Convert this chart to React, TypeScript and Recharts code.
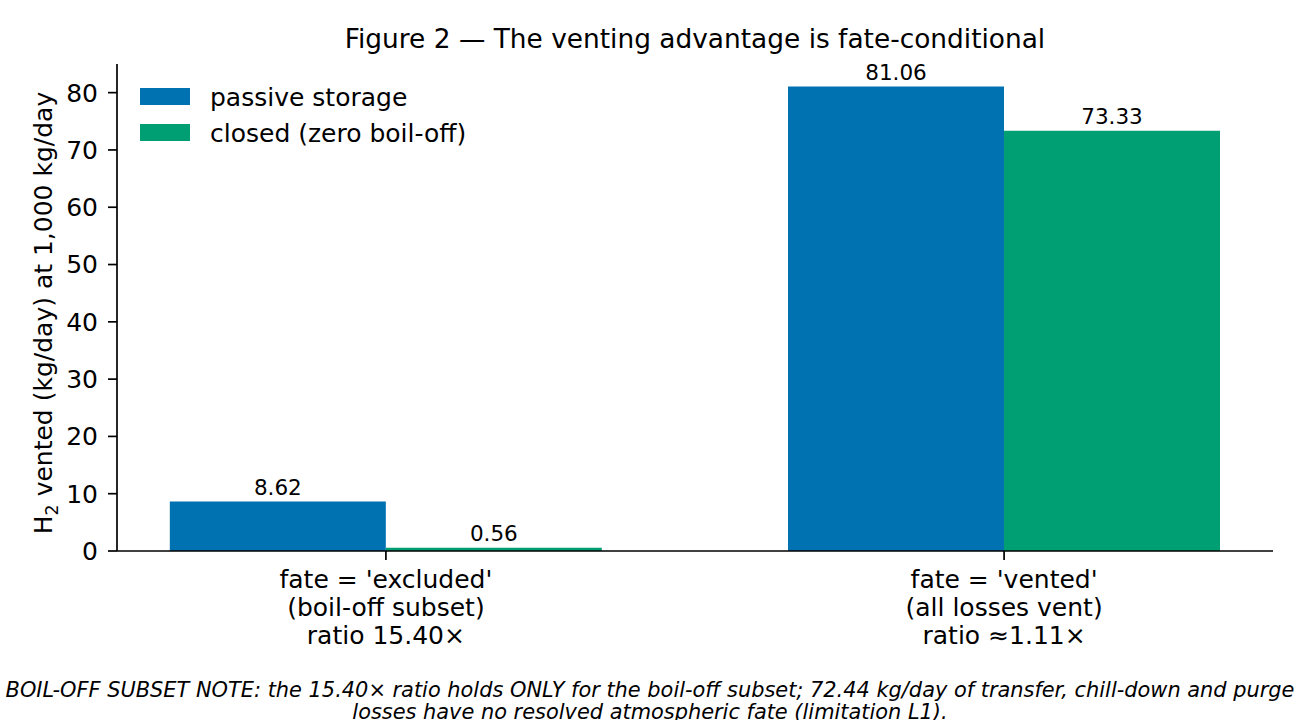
import { BarChart, Bar, XAxis, YAxis, LabelList } from "recharts";

const FONT = "'DejaVu Sans', sans-serif";

// two loss-fate scenarios, each with a passive and a closed storage bar
const CATEGORIES = ["fate = 'excluded'", "fate = 'vented'"];
const SUBTITLES = ["(boil-off subset)", "(all losses vent)"];
const RATIO_LABELS = ["ratio 15.40×", "ratio ≈1.11×"];
const PASSIVE = [8.62, 81.06];
const CLOSED = [0.56, 73.33];
const Y_TICKS = [0, 10, 20, 30, 40, 50, 60, 70, 80];

const SERIES = [
  { key: "passive", name: "passive storage", color: "#0072B2" },
  { key: "closed", name: "closed (zero boil-off)", color: "#009E73" },
];

const rows = CATEGORIES.map((c, i) => ({
  x: i,
  label: c,
  passive: PASSIVE[i],
  closed: CLOSED[i],
}));

const XTick = (props: any) => {
  const { x, y, payload } = props;
  const i = payload.value as number;
  const lines = [CATEGORIES[i], SUBTITLES[i], RATIO_LABELS[i]];
  return (
    <text x={x} y={y} textAnchor="middle" fontFamily={FONT} fontSize={25} fill="#000">
      {lines.map((l, k) => (
        <tspan key={k} x={x} dy={k === 0 ? 23 : 28.2}>
          {l}
        </tspan>
      ))}
    </text>
  );
};

export default function App() {
  return (
    <div style={{ position: "absolute", left: 0, top: 0, width: 1300, height: 720, background: "#fff" }}>
      <BarChart
        width={1300}
        height={720}
        data={rows}
        margin={{ top: 64, right: 27, bottom: 69, left: 0 }}
        barGap={0}
      >
        <XAxis
          type="number"
          dataKey="x"
          domain={[-0.435, 1.435]}
          ticks={[0, 1]}
          allowDataOverflow
          height={100}
          tick={<XTick />}
          tickSize={9}
          tickMargin={5}
          axisLine={{ stroke: "#000", strokeWidth: 1.7 }}
          tickLine={{ stroke: "#000", strokeWidth: 1.7 }}
        />
        <YAxis
          width={117}
          domain={[0, 85]}
          ticks={Y_TICKS}
          tickSize={9}
          tickMargin={10}
          tick={{ fontFamily: FONT, fontSize: 25, fill: "#000" }}
          axisLine={{ stroke: "#000", strokeWidth: 1.7 }}
          tickLine={{ stroke: "#000", strokeWidth: 1.7 }}
        />
        {SERIES.map((s) => (
          <Bar key={s.key} dataKey={s.key} name={s.name} fill={s.color} barSize={216} isAnimationActive={false}>
            <LabelList
              dataKey={s.key}
              position="top"
              offset={7}
              formatter={(v: any) => Number(v).toFixed(2)}
              style={{ fontFamily: FONT, fontSize: 21.5, fill: "#000" }}
            />
          </Bar>
        ))}
      </BarChart>
      <svg
        width={1300}
        height={720}
        style={{ position: "absolute", left: 0, top: 0, pointerEvents: "none" }}
        fontFamily={FONT}
      >
        <text x={695} y={47.5} textAnchor="middle" fontSize={26.4} fill="#000">
          Figure 2 — The venting advantage is fate-conditional
        </text>
        <text
          transform="translate(52, 313) rotate(-90)"
          textAnchor="middle"
          fontSize={25}
          fill="#000"
        >
          H<tspan fontSize={17.5} dy={6}>2</tspan>
          <tspan dy={-6}> vented (kg/day) at 1,000 kg/day</tspan>
        </text>
        {SERIES.map((s, i) => (
          <g key={s.key}>
            <rect x={140} y={88 + i * 36} width={50} height={17} fill={s.color} />
            <text x={210} y={106 + i * 36} fontSize={25} fill="#000">
              {s.name}
            </text>
          </g>
        ))}
        <text x={650} fontSize={20.9} fontStyle="italic" textAnchor="middle" fill="#000">
          <tspan x={650} y={697}>
            BOIL-OFF SUBSET NOTE: the 15.40× ratio holds ONLY for the boil-off subset; 72.44 kg/day of transfer, chill-down and purge
          </tspan>
          <tspan x={650} y={719}>
            losses have no resolved atmospheric fate (limitation L1).
          </tspan>
        </text>
      </svg>
    </div>
  );
}
